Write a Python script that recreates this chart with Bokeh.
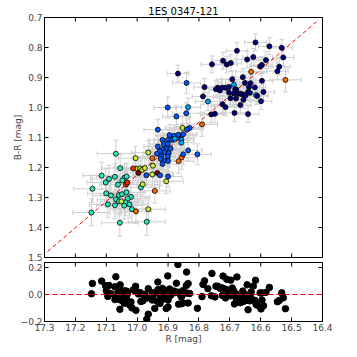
import numpy as np
from bokeh.plotting import figure
from bokeh.models import Range1d, FixedTicker, ColumnDataSource, Span
from bokeh.layouts import column
from bokeh.embed import file_html
from bokeh.resources import INLINE

# ---------------- data ----------------
navy_R = [16.617, 16.572, 16.532, 16.677, 16.527, 16.758, 16.722, 16.710, 16.697, 16.644,
          16.624, 16.583, 16.596, 16.602, 16.540, 16.546, 16.658, 16.692, 16.596, 16.651,
          16.633, 16.782, 16.739, 16.745, 16.732, 16.725, 16.714, 16.703, 16.683, 16.679,
          16.703, 16.687, 16.673, 16.659, 16.666, 16.638, 16.619, 16.641, 16.611, 16.591,
          16.635, 16.649, 16.698, 16.680, 16.656, 16.787, 16.724, 16.714, 16.599, 16.666,
          16.685, 16.641, 16.760, 16.748, 16.868]
navy_BR = [0.783, 0.796, 0.801, 0.811, 0.833, 0.856, 0.844, 0.857, 0.852, 0.840,
           0.832, 0.842, 0.858, 0.863, 0.864, 0.879, 0.899, 0.906, 0.911, 0.918,
           0.919, 0.932, 0.934, 0.939, 0.943, 0.934, 0.934, 0.932, 0.940, 0.940,
           0.950, 0.953, 0.954, 0.956, 0.954, 0.932, 0.933, 0.948, 0.962, 0.948,
           0.951, 0.960, 0.969, 0.970, 0.974, 0.963, 0.989, 0.999, 0.979, 0.992,
           1.018, 1.022, 1.023, 1.021, 0.887]

lightblue_R = [16.687, 16.615, 16.771, 16.857, 16.857, 16.835, 16.878]
lightblue_BR = [0.924, 0.959, 0.980, 1.108, 1.117, 0.999, 1.104]

blue_R = [16.840, 16.901, 16.873, 16.841, 16.933, 16.830, 16.839, 16.895, 16.880, 16.861,
          16.855, 16.851, 16.867, 16.918, 16.900, 16.886, 16.914, 16.901, 16.933, 16.906,
          16.917, 16.892, 16.927, 16.911, 16.898, 16.835, 16.805, 16.851, 16.936, 16.922,
          16.901, 16.900, 16.914, 16.924, 16.918, 16.970, 16.926, 16.900]
blue_BR = [0.918, 1.000, 1.030, 1.019, 1.074, 1.068, 1.073, 1.092, 1.094, 1.101,
           1.092, 1.089, 1.091, 1.108, 1.108, 1.108, 1.122, 1.121, 1.130, 1.137,
           1.140, 1.137, 1.146, 1.149, 1.152, 1.143, 1.156, 1.156, 1.154, 1.162,
           1.163, 1.178, 1.177, 1.171, 1.188, 1.226, 1.226, 1.230]

orange_R = [16.631, 16.520, 16.790, 16.856, 16.866, 16.951, 16.943, 17.004]
orange_BR = [0.881, 0.908, 1.056, 1.166, 1.179, 1.169, 1.278, 1.346]

yellow_R = [16.853, 16.964, 17.005, 16.949, 17.004, 16.990, 16.984, 16.975, 16.951, 16.906,
            16.982, 17.051, 16.964]
yellow_BR = [1.068, 1.150, 1.169, 1.194, 1.204, 1.203, 1.208, 1.202, 1.223, 1.246,
             1.256, 1.313, 1.339]

red_R = [17.013, 17.036, 17.032]
red_BR = [1.203, 1.257, 1.250]

darkred_R = [16.996, 16.935]
darkred_BR = [1.218, 1.218]

teal_R = [17.069, 17.055, 17.115, 17.072, 17.091, 17.102, 17.041, 17.034, 17.062, 17.048,
          16.988, 17.145, 17.100, 17.085, 17.059, 17.049, 17.035, 17.020, 17.069, 17.031,
          17.059, 17.038, 17.095, 17.072, 17.042, 17.025, 17.017, 17.148, 17.056, 16.969]
teal_BR = [1.154, 1.202, 1.227, 1.231, 1.238, 1.250, 1.234, 1.230, 1.257, 1.243,
           1.266, 1.271, 1.286, 1.293, 1.292, 1.289, 1.283, 1.298, 1.306, 1.304,
           1.313, 1.316, 1.323, 1.326, 1.327, 1.323, 1.339, 1.350, 1.384, 1.381]

# typical error bar half-sizes per group (estimated)
groups = [
    # name,      R,           BR,           colour,    xerr,  yerr
    ("teal",     teal_R,      teal_BR,      "#2ee6c0", 0.060, 0.045),
    ("yellow",   yellow_R,    yellow_BR,    "#c8f02a", 0.055, 0.040),
    ("red",      red_R,       red_BR,       "#f03000", 0.055, 0.040),
    ("darkred",  darkred_R,   darkred_BR,   "#800000", 0.050, 0.040),
    ("orange",   orange_R,    orange_BR,    "#ff6a00", 0.050, 0.040),
    ("blue",     blue_R,      blue_BR,      "#0058ff", 0.045, 0.035),
    ("lightblue", lightblue_R, lightblue_BR, "#00a8ff", 0.040, 0.030),
    ("navy",     navy_R,      navy_BR,      "#00007f", 0.035, 0.028),
]

x_ticks = [17.3, 17.2, 17.1, 17.0, 16.9, 16.8, 16.7, 16.6, 16.5, 16.4]
top_y_ticks = [0.7, 0.8, 0.9, 1.0, 1.1, 1.2, 1.3, 1.4, 1.5]
bottom_y_ticks = [-0.2, 0.0, 0.2]

# linear relation drawn as the red dashed line
fit_slope = 0.88
fit_pivot_R = 17.0
fit_pivot_BR = 1.225
fit_line_R = [17.29, 16.42]


def fit(r):
    return fit_pivot_BR + fit_slope * (np.asarray(r) - fit_pivot_R)


# ---------------- build sources ----------------
R_all, BR_all, col_all, xe_all, ye_all = [], [], [], [], []
for name, r, br, c, xe, ye in groups:
    R_all += list(r)
    BR_all += list(br)
    col_all += [c] * len(r)
    xe_all += [xe] * len(r)
    ye_all += [ye] * len(r)
R_all = np.array(R_all)
BR_all = np.array(BR_all)
xe_all = np.array(xe_all)
ye_all = np.array(ye_all)

pts = ColumnDataSource(dict(R=R_all, BR=BR_all, c=col_all))
err = ColumnDataSource(dict(
    R=R_all, BR=BR_all,
    xl=R_all - xe_all, xr=R_all + xe_all,
    yl=BR_all - ye_all, yh=BR_all + ye_all))
resid = ColumnDataSource(dict(R=R_all, res=fit(R_all) - BR_all))

FONT = "DejaVu Sans"
TICK_FS = "9px"
x_range = Range1d(17.3, 16.4)
y_range_top = Range1d(1.5, 0.7)
y_range_bot = Range1d(-0.2, 0.237)


def style_axis(ax, ticks):
    ax.ticker = FixedTicker(ticks=ticks)
    ax.major_tick_in = 4
    ax.major_tick_out = 0
    ax.minor_tick_line_color = None
    ax.axis_line_color = "black"
    ax.major_tick_line_color = "black"
    ax.major_label_text_font = FONT
    ax.major_label_text_font_size = TICK_FS
    ax.major_label_standoff = 2
    ax.major_label_overrides = {t: (f"{t:.1f}".replace("-", "\u2212")) for t in ticks}
    ax.axis_label_text_font = FONT
    ax.axis_label_text_font_size = TICK_FS
    ax.axis_label_text_font_style = "normal"


def inner_ticks(p, xr, yr, xt, yt, bottom=False):
    # matplotlib-style inward ticks on the frame sides that carry no labels
    p.scatter(x=[xr.end] * len(yt), y=yt, marker="dash", size=8, line_color="black", line_width=1)
    p.scatter(x=xt, y=[yr.end] * len(xt), marker="dash", angle=np.pi / 2, size=8,
              line_color="black", line_width=1)
    if bottom:
        p.scatter(x=xt, y=[yr.start] * len(xt), marker="dash", angle=np.pi / 2, size=8,
                  line_color="black", line_width=1)


# ---------------- top panel ----------------
p1 = figure(width=340, height=262, x_range=x_range, y_range=y_range_top,
            title="1ES 0347-121",
            output_backend="svg", toolbar_location=None,
            min_border_left=44, min_border_right=18, min_border_top=17, min_border_bottom=5)
p1.title.align = "center"
p1.title.text_font = FONT
p1.title.text_font_size = "10px"
p1.title.text_font_style = "normal"
p1.title.text_color = "black"
p1.title.standoff = 1
p1.grid.visible = False
p1.outline_line_color = "black"
p1.background_fill_color = "white"
p1.xaxis.visible = False

style_axis(p1.yaxis[0], top_y_ticks)
p1.yaxis[0].axis_label = "B-R [mag]"
p1.yaxis[0].axis_label_standoff = 2

EB = "#cfcfcf"
p1.segment(x0="xl", x1="xr", y0="BR", y1="BR", source=err, line_color=EB, line_width=1)
p1.segment(x0="R", x1="R", y0="yl", y1="yh", source=err, line_color=EB, line_width=1)
p1.scatter(x="xl", y="BR", source=err, marker="dash", angle=np.pi / 2, size=5, line_color=EB)
p1.scatter(x="xr", y="BR", source=err, marker="dash", angle=np.pi / 2, size=5, line_color=EB)
p1.scatter(x="R", y="yl", source=err, marker="dash", size=5, line_color=EB)
p1.scatter(x="R", y="yh", source=err, marker="dash", size=5, line_color=EB)

p1.line(x=fit_line_R, y=list(fit(fit_line_R)), line_color="red", line_dash="4 3", line_width=1)

p1.scatter(x="R", y="BR", source=pts, size=5, fill_color="c", line_color="black", line_width=0.8)

inner_ticks(p1, x_range, y_range_top, x_ticks, top_y_ticks, bottom=True)

# ---------------- bottom panel ----------------
p2 = figure(width=340, height=87, x_range=x_range, y_range=y_range_bot,
            output_backend="svg", toolbar_location=None,
            min_border_left=44, min_border_right=18, min_border_top=0, min_border_bottom=28)
p2.grid.visible = False
p2.outline_line_color = "black"
style_axis(p2.xaxis[0], x_ticks)
p2.xaxis[0].axis_label = "R [mag]"
p2.xaxis[0].axis_label_standoff = 0
style_axis(p2.yaxis[0], bottom_y_ticks)

p2.add_layout(Span(location=0, dimension="width", line_color="red", line_dash="5 3", line_width=1))
p2.scatter(x="R", y="res", source=resid, size=6.5, fill_color="black", line_color="black")
inner_ticks(p2, x_range, y_range_bot, x_ticks, bottom_y_ticks)

layout = column(p1, p2, spacing=0)
open("out.html", "w").write(file_html(layout, INLINE))
